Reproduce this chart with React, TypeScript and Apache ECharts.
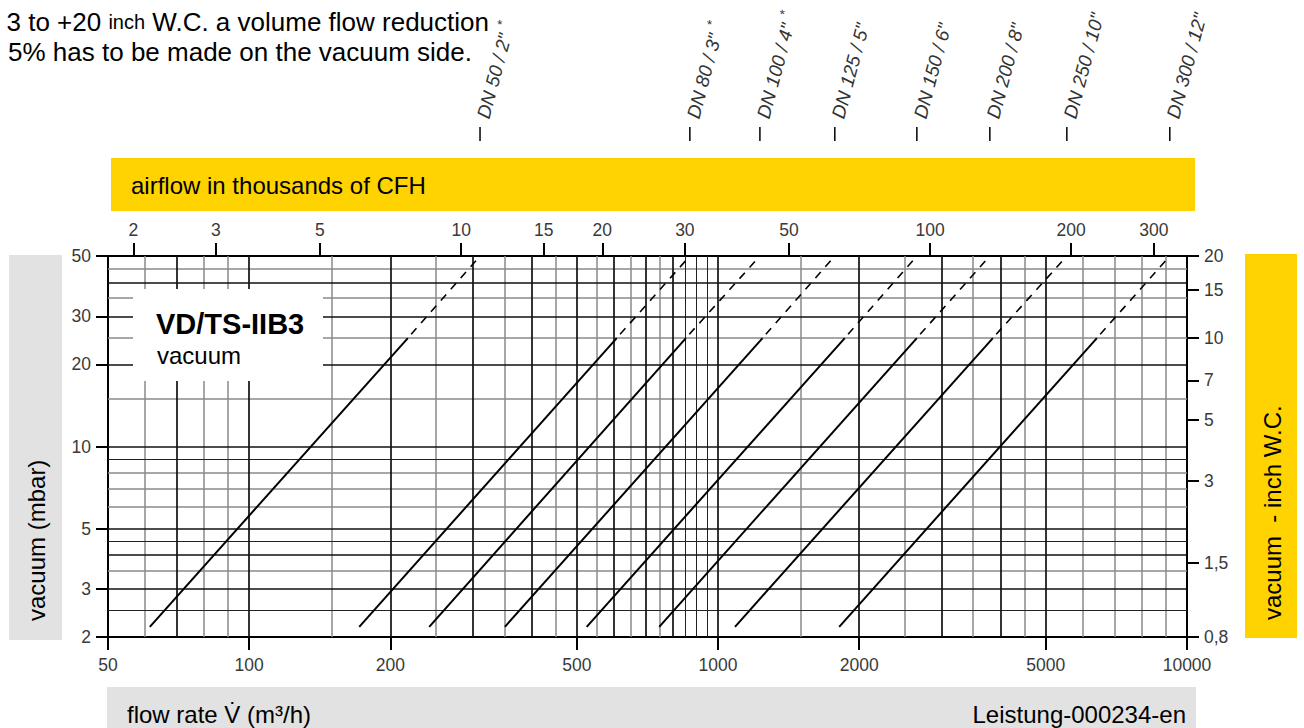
import React, { useEffect, useRef } from 'react';
import * as echarts from 'echarts';

// ---- data ----
const dnLabels = ['DN 50 / 2"', 'DN 80 / 3"', 'DN 100 / 4"', 'DN 125 / 5"', 'DN 150 / 6"', 'DN 200 / 8"', 'DN 250 / 10"', 'DN 300 / 12"'];
const dnStar = [true, true, true, false, false, false, false, false];
const startFlow = [61.4, 171.7, 242.1, 351.1, 524.6, 749.0, 1086.6, 1812.6];
const startVac = 2.18;
const solidEndFlow = [218, 608, 854, 1244, 1863, 2654, 3855, 6425];
const solidEndVac = 25;
const topFlow = [310.7, 870.6, 1228, 1774, 2654, 3798, 5543, 9190];
const topVac = 50;

const xTicks = [50, 100, 200, 500, 1000, 2000, 5000, 10000];
const cfhTicks = [2, 3, 5, 10, 15, 20, 30, 50, 100, 200, 300];
const mbarTicks = [2, 3, 5, 10, 20, 30, 50];
const inchTicks = [0.8, 1.5, 3, 5, 7, 10, 15, 20];

const xGridBold = [70, 100, 200, 300, 400, 500, 600, 700, 800, 1000, 2000, 3000, 4000, 5000];
const xGridThin = [850, 900, 950];
const xGridGray = [60, 80, 90, 150, 250, 350, 450, 550, 650, 750, 1500, 2500, 3500, 4500, 6000, 7000, 8000, 9000];
const yGridBold = [3, 4, 5, 10, 20, 30, 40];
const yGridThin = [2.5, 4.5, 9];
const yGridGray = [3.5, 6, 7, 8, 15, 25, 35, 45];

const M3H_TO_KCFH = 0.0353147;
const X_MIN = 50, X_MAX = 10000, Y_MIN = 2, Y_MAX = 50;
const INCH_MIN = 0.8, INCH_MAX = 20;

const FONT = '"Liberation Sans", Arial, sans-serif';
const TICK_COLOR = '#3a3a3a';
const YELLOW = '#FFD300';
const GREY = '#E2E2E2';

function gridMarkLines() {
  const bold = { color: '#111', width: 1.7, type: 'solid' };
  const thin = { color: '#222', width: 1, type: 'solid' };
  const gray = { color: '#8a8a8a', width: 1.5, type: 'solid' };
  const d: any[] = [];
  xGridGray.forEach(v => d.push({ xAxis: v, lineStyle: gray }));
  yGridGray.forEach(v => d.push({ yAxis: v, lineStyle: gray }));
  xGridThin.forEach(v => d.push({ xAxis: v, lineStyle: thin }));
  yGridThin.forEach(v => d.push({ yAxis: v, lineStyle: thin }));
  xGridBold.forEach(v => d.push({ xAxis: v, lineStyle: bold }));
  yGridBold.forEach(v => d.push({ yAxis: v, lineStyle: bold }));
  return d;
}

const plain = (v: number) => String(v);

function buildOption(): any {
  const axisLineStyle = { color: '#000', width: 2 };
  const tickLabel = { color: TICK_COLOR, fontSize: 17.5, fontFamily: FONT };
  const series: any[] = [
    {
      type: 'line', xAxisIndex: 0, yAxisIndex: 0, data: [[X_MIN, Y_MIN]], symbol: 'none', silent: true, z: 1,
      lineStyle: { opacity: 0 },
      markLine: {
        silent: true, symbol: ['none', 'none'], label: { show: false }, animation: false,
        emphasis: { disabled: true }, lineStyle: { type: 'solid' }, data: gridMarkLines(),
      },
    },
  ];
  dnLabels.forEach((name, i) => {
    series.push({
      type: 'line', name, xAxisIndex: 0, yAxisIndex: 0, symbol: 'none', silent: true, z: 5,
      data: [[startFlow[i], startVac], [solidEndFlow[i], solidEndVac]],
      lineStyle: { color: '#000', width: 2 },
    });
    series.push({
      type: 'line', name: name + ' (dashed)', xAxisIndex: 0, yAxisIndex: 0, symbol: 'none', silent: true, z: 5,
      data: [[solidEndFlow[i], solidEndVac], [topFlow[i], topVac]],
      lineStyle: { color: '#000', width: 1.6, type: [8, 7], dashOffset: -5 },
    });
  });
  return {
    animation: false,
    backgroundColor: '#fff',
    grid: { left: 108, top: 256, width: 1079, height: 381, containLabel: false },
    xAxis: [
      {
        type: 'log', logBase: 10, min: X_MIN, max: X_MAX, position: 'bottom',
        axisLine: { show: true, onZero: false, lineStyle: axisLineStyle },
        axisTick: { show: true, length: 13, customValues: xTicks, lineStyle: { color: '#000', width: 2 } },
        axisLabel: { ...tickLabel, customValues: xTicks, margin: 19, formatter: plain },
        splitLine: { show: false }, minorTick: { show: false }, minorSplitLine: { show: false },
      },
      {
        type: 'log', logBase: 10, min: X_MIN * M3H_TO_KCFH, max: X_MAX * M3H_TO_KCFH, position: 'top',
        axisLine: { show: true, onZero: false, lineStyle: axisLineStyle },
        axisTick: { show: true, length: 13, customValues: cfhTicks, lineStyle: { color: '#000', width: 2 } },
        axisLabel: { ...tickLabel, customValues: cfhTicks, margin: 17, formatter: plain },
        splitLine: { show: false }, minorTick: { show: false }, minorSplitLine: { show: false },
      },
    ],
    yAxis: [
      {
        type: 'log', logBase: 10, min: Y_MIN, max: Y_MAX, position: 'left',
        axisLine: { show: true, onZero: false, lineStyle: axisLineStyle },
        axisTick: { show: true, length: 12, customValues: mbarTicks, lineStyle: { color: '#000', width: 2 } },
        axisLabel: { ...tickLabel, customValues: mbarTicks, margin: 17, formatter: plain },
        splitLine: { show: false }, minorTick: { show: false }, minorSplitLine: { show: false },
      },
      {
        type: 'log', logBase: 10, min: INCH_MIN, max: INCH_MAX, position: 'right',
        axisLine: { show: true, onZero: false, lineStyle: axisLineStyle },
        axisTick: { show: true, length: 12, customValues: inchTicks, lineStyle: { color: '#000', width: 2 } },
        axisLabel: { ...tickLabel, customValues: inchTicks, margin: 17, formatter: (v: number) => String(v).replace('.', ',') },
        splitLine: { show: false }, minorTick: { show: false }, minorSplitLine: { show: false },
      },
    ],
    series,
  };
}

function buildGraphics(chart: any): any[] {
  const g: any[] = [];
  const txt = (id: string, x: number, y: number, text: string, extra: any = {}, style: any = {}) => ({
    type: 'text', id, x, y, z: 20, silent: true, ...extra,
    style: { text, fill: '#000', font: `24px ${FONT}`, textAlign: 'left', textVerticalAlign: 'middle', ...style },
  });
  // top-left note
  g.push(txt('note1', 489, 22, '3 to +20 {s|inch} W.C. a volume flow reduction', {}, {
    textAlign: 'right', font: `26px ${FONT}`, rich: { s: { fontSize: 20, fontFamily: FONT, fill: '#000' } },
  }));
  g.push(txt('note2', 472, 52, '5% has to be made on the vacuum side.', {}, { textAlign: 'right', font: `26px ${FONT}` }));
  // top yellow band
  g.push({ type: 'rect', id: 'bandTop', z: 0, silent: true, shape: { x: 111, y: 158, width: 1084, height: 53 }, style: { fill: YELLOW } });
  g.push(txt('bandTopText', 131, 185, 'airflow in thousands of CFH', {}, { font: `24px ${FONT}` }));
  // left grey band
  g.push({ type: 'rect', id: 'bandLeft', z: 0, silent: true, shape: { x: 9, y: 255, width: 53, height: 385 }, style: { fill: GREY } });
  g.push(txt('bandLeftText', 36, 621, 'vacuum (mbar)', { rotation: Math.PI / 2 }, { font: `24px ${FONT}` }));
  // right yellow band
  g.push({ type: 'rect', id: 'bandRight', z: 0, silent: true, shape: { x: 1245, y: 254, width: 52, height: 384 }, style: { fill: YELLOW } });
  g.push(txt('bandRightText', 1272, 620, 'vacuum  - inch W.C.', { rotation: Math.PI / 2 }, { font: `24px ${FONT}` }));
  // bottom grey band
  g.push({ type: 'rect', id: 'bandBottom', z: 0, silent: true, shape: { x: 107, y: 687, width: 1089, height: 41 }, style: { fill: GREY } });
  g.push(txt('bandBottomText', 127, 714, 'flow rate V\u0307 (m³/h)', {}, { font: `24px ${FONT}` }));
  g.push(txt('bandBottomCode', 1186, 714, 'Leistung-000234-en', {}, { font: `24px ${FONT}`, textAlign: 'right' }));
  // title box
  g.push({ type: 'rect', id: 'titleBox', z: 15, silent: true, shape: { x: 133, y: 289, width: 190, height: 92 }, style: { fill: '#fff' } });
  g.push(txt('title1', 156, 324, 'VD/TS-IIB3', {}, { font: `bold 29px ${FONT}` }));
  g.push(txt('title2', 157, 355, 'vacuum', {}, { font: `24px ${FONT}` }));
  // DN labels
  dnLabels.forEach((label, i) => {
    const px = chart.convertToPixel({ xAxisIndex: 0 }, topFlow[i]);
    g.push({ type: 'line', id: 'dnTick' + i, z: 20, silent: true, shape: { x1: px, y1: 127, x2: px, y2: 141 }, style: { stroke: '#000', lineWidth: 1.5 } });
    g.push({
      type: 'text', id: 'dnLabel' + i, x: px + 3, y: 118, rotation: (75 * Math.PI) / 180, z: 20, silent: true,
      style: {
        text: label + (dnStar[i] ? '{s|  *}' : ''),
        fill: '#333', font: `italic 19px ${FONT}`, textAlign: 'left', textVerticalAlign: 'middle',
        rich: { s: { fontSize: 13, fontFamily: FONT, fill: '#333', padding: [0, 0, 13, 0] } },
      },
    });
  });
  return g;
}

export default function App() {
  const ref = useRef<HTMLDivElement>(null);
  useEffect(() => {
    if (!ref.current) return;
    const chart = echarts.init(ref.current, null, { renderer: 'svg' });
    chart.setOption(buildOption());
    chart.setOption({ graphic: buildGraphics(chart) });
    return () => chart.dispose();
  }, []);
  return <div ref={ref} style={{ position: 'fixed', left: 0, top: 0, width: 1304, height: 728, background: '#fff' }} />;
}
